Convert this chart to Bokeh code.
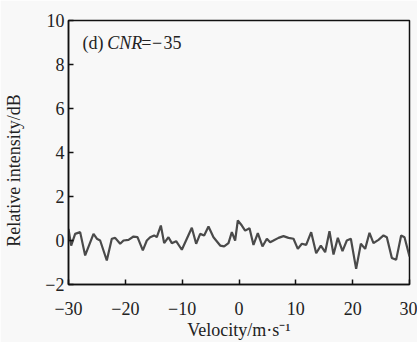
from bokeh.plotting import figure
from bokeh.models import Label, FixedTicker, Range1d
from bokeh.embed import file_html
from bokeh.resources import INLINE

velocity = [-30.0, -29.53, -28.83, -27.95, -27.07, -25.60, -25.01, -24.43, -23.26, -22.38,
            -21.79, -20.91, -20.32, -19.44, -18.56, -17.86, -16.92, -16.22, -15.63, -14.93,
            -14.46, -13.75, -13.17, -12.41, -11.82, -11.06, -10.06, -9.18, -8.30, -7.54,
            -6.83, -6.13, -5.37, -4.49, -3.31, -2.61, -1.85, -1.26, -0.68, -0.21,
            0.50, 1.08, 1.85, 2.55, 3.31, 4.13, 4.90, 5.48, 6.07, 6.95,
            7.83, 8.71, 9.59, 10.35, 11.06, 11.82, 12.70, 13.58, 14.40, 15.16,
            15.92, 16.63, 17.39, 18.21, 18.97, 19.68, 20.61, 21.44, 22.20, 22.96,
            23.66, 24.54, 25.43, 26.01, 26.89, 27.65, 28.53, 29.12, 30.0]
intensity = [0.53, -0.23, 0.30, 0.38, -0.68, 0.30, 0.08, 0.0, -0.91, 0.08,
             0.12, -0.15, 0.0, 0.03, 0.18, 0.15, -0.45, 0.0, 0.15, 0.23,
             0.15, 0.68, -0.12, 0.15, -0.12, -0.03, -0.42, 0.08, 0.58, -0.15,
             0.30, 0.23, 0.64, 0.15, -0.23, -0.27, -0.12, 0.38, 0.0, 0.91,
             0.68, 0.45, 0.56, -0.20, 0.33, -0.27, 0.08, -0.08, 0.0, 0.12,
             0.20, 0.12, 0.08, -0.38, -0.15, -0.20, 0.38, -0.58, -0.23, -0.53,
             0.42, -0.64, 0.12, -0.48, 0.0, 0.08, -1.29, -0.15, -0.38, 0.35,
             -0.12, 0.03, 0.23, 0.15, -0.79, -0.88, 0.23, 0.15, -0.73]
x_ticks = [-30, -20, -10, 0, 10, 20, 30]
y_ticks = [-2, 0, 2, 4, 6, 8, 10]

FONT = "Liberation Serif"
TXT = "#222222"
BG = "#f8f8f8"

p = figure(width=417, height=342, output_backend="svg", toolbar_location=None,
           x_range=Range1d(-30, 30), y_range=Range1d(-2, 10),
           min_border_left=68, min_border_right=8, min_border_top=20, min_border_bottom=57)
p.background_fill_color = BG
p.border_fill_color = BG
p.grid.visible = False
p.outline_line_color = "#111111"
p.outline_line_width = 1.5

p.line(velocity, intensity, line_color="#4a4a4a", line_width=2.2)

for ax in (p.xaxis[0], p.yaxis[0]):
    ax.axis_line_color = "#111111"
    ax.axis_line_width = 1.5
    ax.major_tick_in = 5
    ax.major_tick_out = 0
    ax.major_tick_line_color = "#111111"
    ax.major_tick_line_width = 1.5
    ax.minor_tick_line_color = None
    ax.major_label_text_font = FONT
    ax.major_label_text_font_size = "18px"
    ax.major_label_text_color = TXT
    ax.axis_label_text_font = FONT
    ax.axis_label_text_font_size = "18px"
    ax.axis_label_text_font_style = "normal"
    ax.axis_label_text_color = TXT

p.xaxis.ticker = FixedTicker(ticks=x_ticks)
p.yaxis.ticker = FixedTicker(ticks=y_ticks)
p.xaxis.major_label_overrides = {t: str(t).replace("-", "\u2212") for t in x_ticks}
p.yaxis.major_label_overrides = {t: str(t).replace("-", "\u2212") for t in y_ticks}
p.xaxis.axis_label = "Velocity/m\u00b7s\u207b\u00b9"
p.yaxis.axis_label = "Relative intensity/dB\u2002\u2002\u2002\u2002"
p.xaxis.major_label_standoff = 17
p.xaxis.axis_label_standoff = 2
p.yaxis.major_label_standoff = 4
p.yaxis.axis_label_standoff = 18

for txt, xx, style in [("(d)", -27.54, "normal"), ("CNR", -23.2, "italic"),
                       ("=", -17.2, "normal"), ("\u2212", -15.3, "normal"),
                       ("35", -13.3, "normal")]:
    p.add_layout(Label(x=xx, y=9.0, text=txt, text_font=FONT, text_font_size="18px",
                       text_font_style=style, text_color=TXT, text_baseline="middle"))

open("out.html", "w").write(file_html(p, INLINE))
